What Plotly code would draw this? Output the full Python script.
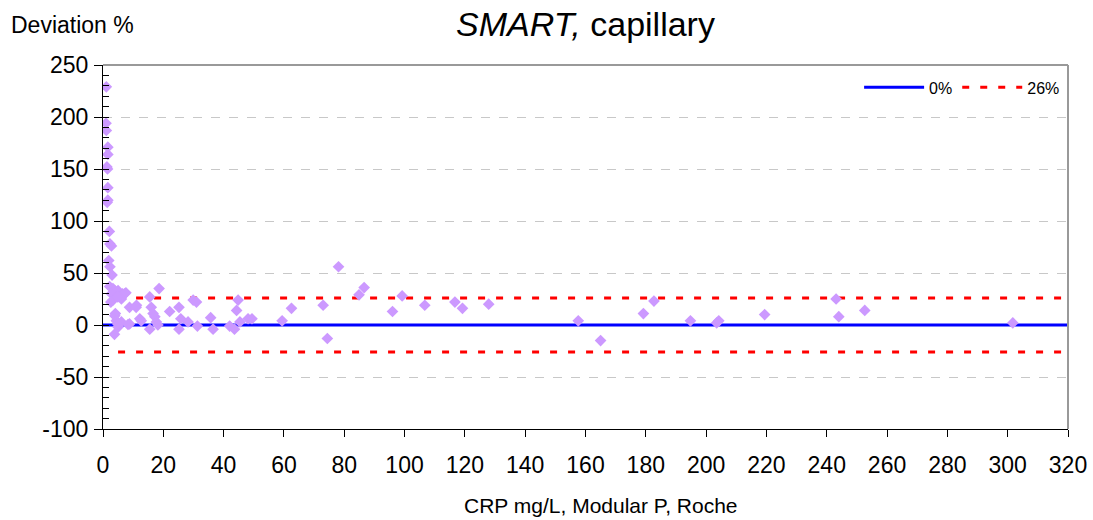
import plotly.graph_objects as go

# Data
crp = [1.1, 1.0, 1.1, 1.6, 1.6, 1.3, 1.5, 1.6, 1.6, 1.4,
       2.1, 2.3, 2.8, 1.9, 2.3, 3.0, 2.2, 3.3, 3.9, 5.0,
       2.8, 4.4, 7.2, 6.5, 3.3, 6.1, 2.6, 4.1, 3.9, 4.4,
       5.0, 3.8, 6.1, 8.3, 8.8, 11.1, 11.0, 12.2, 12.7, 15.5,
       16.0, 16.6, 17.2, 17.7, 18.2, 15.5, 18.6, 22.1, 25.2, 25.2,
       25.8, 28.2, 29.9, 31.0, 31.3, 35.7, 36.5, 42.0, 43.6, 44.3,
       44.8, 45.4, 48.1, 49.4, 59.4, 62.5, 73.0, 74.4, 78.1, 84.9,
       86.6, 96.0, 99.2, 106.7, 116.7, 119.2, 127.9, 157.6, 165.0, 179.2,
       182.7, 194.8, 203.5, 204.2, 219.4, 243.1, 244.0, 252.6, 301.7, 4.9,
       8.8, 7.6, 4.9]
deviation = [229, 194, 187, 171, 164, 152, 150, 132, 120, 118,
             90, 78, 76, 62, 56, 48, 37, 35, 33, 33,
             30, 28, 30, 30, 24, 25, 22, 11, 9, 4,
             -2, -9, 3, 0.5, 17, 19, 17, 6, 4, 27,
             17, 11, 8, 3, 0, -4, 35, 13, 17, -4,
             6, 3, 24, 22, -1, 7, -4, -1, -4, 14,
             24, 3, 6, 6, 4, 16, 19, -13, 56, 29,
             36, 13, 28, 19, 22, 16, 20, 4, -15, 11,
             23, 4, 2, 4, 10, 25, 8, 14, 2, 1,
             1, 31, 27]

zero_x = [0, 320]
zero_y = [0, 0]
limit_x = [5, 320]
limit_pos = [26, 26]
limit_neg = [-26, -26]

y_tick_vals = [-100, -50, 0, 50, 100, 150, 200, 250]
y_tick_text = ["-100", "-50", "0", "50", "100", "150", "200", "250"]

font_family = "Liberation Sans, Arial, sans-serif"

fig = go.Figure()
fig.add_trace(go.Scatter(x=zero_x, y=zero_y, mode="lines", name="0%",
                         line=dict(color="#0000FF", width=3)))
fig.add_trace(go.Scatter(x=limit_x, y=limit_pos, mode="lines", name="26%",
                         line=dict(color="#FF0000", width=3, dash="7px,11px")))
fig.add_trace(go.Scatter(x=limit_x, y=limit_neg, mode="lines", showlegend=False,
                         line=dict(color="#FF0000", width=3, dash="7px,11px")))
fig.add_trace(go.Scatter(x=crp, y=deviation, mode="markers", showlegend=False,
                         marker=dict(symbol="diamond", size=9, color="#CC99FF",
                                     line=dict(width=0))))

fig.update_layout(
    width=1093, height=520,
    margin=dict(l=103, r=25, t=65, b=91),
    paper_bgcolor="white", plot_bgcolor="white",
    font=dict(family=font_family, color="black", size=23),
    title=dict(text="<i>SMART,</i> capillary", x=0.5357, xanchor="center",
               y=0.953, yanchor="middle", font=dict(size=34, family=font_family)),
    legend=dict(orientation="h", x=0.997, xanchor="right", y=0.985, yanchor="top",
                font=dict(size=16), itemwidth=60, bgcolor="rgba(255,255,255,0)",
                tracegroupgap=0),
    xaxis=dict(range=[0, 320], dtick=20, tick0=0, showgrid=False, zeroline=False,
               showline=True, linecolor="black", linewidth=1, automargin=False,
               ticks="outside", ticklen=7, tickcolor="black",
               ticklabelstandoff=8),
    yaxis=dict(range=[-100, 250], tickmode="array", tickvals=y_tick_vals,
               ticktext=y_tick_text, showgrid=True, automargin=False,
               gridcolor="#C8C8C8", griddash="dash", gridwidth=1, zeroline=False,
               showline=True, linecolor="black", linewidth=1,
               ticks="outside", ticklen=8, tickcolor="black",
               ticklabelstandoff=1,
               minor=dict(dtick=10, tick0=0, ticks="inside", ticklen=6,
                          tickcolor="black", showgrid=False)),
    annotations=[
        dict(text="Deviation %", xref="paper", yref="paper",
             x=-103/965 + 9/965, xanchor="left", y=1 + 40/364,
             yanchor="middle", showarrow=False, font=dict(size=23)),
        dict(text="CRP mg/L, Modular P, Roche", xref="paper", yref="paper",
             x=(601 - 103)/965, xanchor="center", y=-76/364, yanchor="middle",
             showarrow=False, font=dict(size=21)),
    ],
    shapes=[
        dict(type="line", xref="paper", yref="paper", x0=0, x1=1, y0=1, y1=1,
             line=dict(color="#999999", width=2)),
        dict(type="line", xref="paper", yref="paper", x0=1, x1=1, y0=0, y1=1,
             line=dict(color="#999999", width=2)),
    ],
)

fig.write_html("out.html")
